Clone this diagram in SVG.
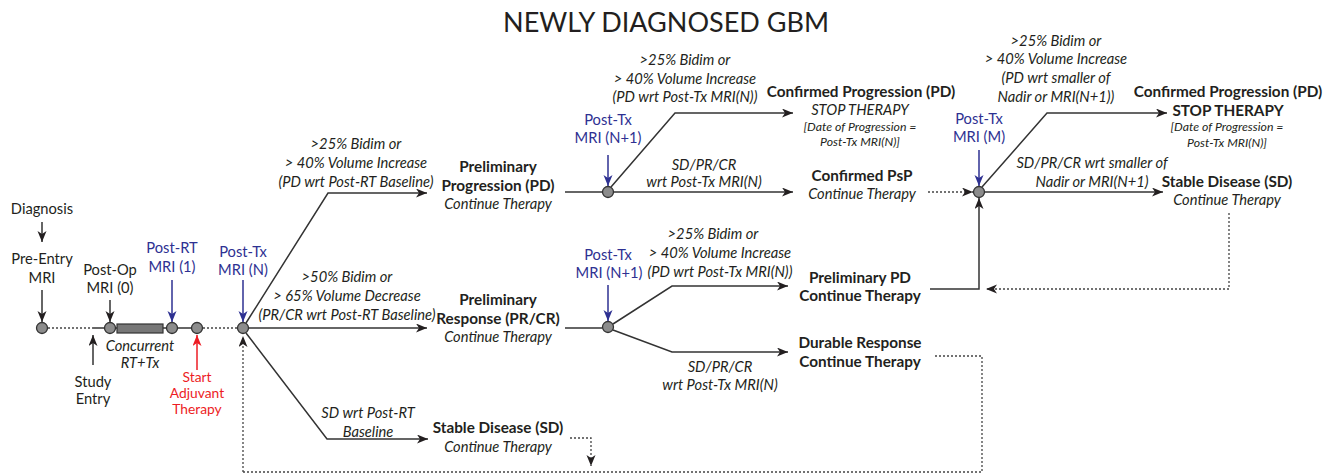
<svg xmlns="http://www.w3.org/2000/svg" width="1338" height="475" viewBox="0 0 1338 475">
<style>
text{font-family:Lato,"Open Sans","Liberation Sans",sans-serif;font-size:14.7px;fill:#231f20;text-anchor:middle}
.t{font-size:27px}
.i{font-style:italic}
.b{font-weight:bold;font-size:15.3px}
.s{font-size:12.3px;font-style:italic}
.blue{fill:#2e3192}
.red{fill:#ed1c24;font-size:13.8px}
.ln{fill:none;stroke:#333;stroke-width:1.5}
.dt{fill:none;stroke:#444;stroke-width:1.3;stroke-dasharray:2 2}
.bl{fill:none;stroke:#2e3192;stroke-width:1.5}
.rd{fill:none;stroke:#ed1c24;stroke-width:1.5}
.nd{fill:#8c8c8c;stroke:#333;stroke-width:1.3}
</style>
<defs>
<marker id="ah" markerUnits="userSpaceOnUse" markerWidth="12" markerHeight="10" refX="11" refY="4.5" orient="auto"><path d="M0,0 L11,4.5 L0,9 L3,4.5 z" fill="#231f20"/></marker>
<marker id="ahb" markerUnits="userSpaceOnUse" markerWidth="12" markerHeight="10" refX="11" refY="4.5" orient="auto"><path d="M0,0 L11,4.5 L0,9 L3,4.5 z" fill="#2e3192"/></marker>
<marker id="ahr" markerUnits="userSpaceOnUse" markerWidth="12" markerHeight="10" refX="11" refY="4.5" orient="auto"><path d="M0,0 L11,4.5 L0,9 L3,4.5 z" fill="#ed1c24"/></marker>
</defs>
<text class="t" x="666" y="32">NEWLY DIAGNOSED GBM</text>

<g id="connectors">
<path class="ln" d="M42,222 V242" marker-end="url(#ah)"/>
<path class="ln" d="M42,290 V322" marker-end="url(#ah)"/>
<path class="dt" d="M48,328 H93"/>
<path class="ln" d="M93,328 H104"/>
<path class="ln" d="M93,365 V335" marker-end="url(#ah)"/>
<path class="ln" d="M110,300 V322" marker-end="url(#ah)"/>
<path class="ln" d="M116,328 H166"/>
<path class="bl" d="M172,280 V322" marker-end="url(#ahb)"/>
<path class="ln" d="M178,328 H191"/>
<path class="rd" d="M197,370 V335" marker-end="url(#ahr)"/>
<path class="dt" d="M203,328 H237"/>
<path class="bl" d="M243,280 V322" marker-end="url(#ahb)"/>
<path class="dt" d="M243,472 V336" marker-end="url(#ah)"/>
<path class="ln" d="M246,323 L328,193 H427" marker-end="url(#ah)"/>
<path class="ln" d="M249,328 H427" marker-end="url(#ah)"/>
<path class="ln" d="M246,333 L327,439 H428" marker-end="url(#ah)"/>
<path class="dt" d="M570,438 H591 V466" marker-end="url(#ah)"/>
<path class="ln" d="M565,192 H602"/>
<path class="bl" d="M608,155 V186" marker-end="url(#ahb)"/>
<path class="ln" d="M611,187 L675,113 H793" marker-end="url(#ah)"/>
<path class="ln" d="M614,192 H793" marker-end="url(#ah)"/>
<path class="dt" d="M928,192 H973" marker-end="url(#ah)"/>
<path class="ln" d="M565,328 H602"/>
<path class="bl" d="M608,285 V321" marker-end="url(#ahb)"/>
<path class="ln" d="M613,324 L672,286 H788" marker-end="url(#ah)"/>
<path class="ln" d="M613,330 L672,352 H788" marker-end="url(#ah)"/>
<path class="ln" d="M930,289 H979 V198" marker-end="url(#ah)"/>
<path class="dt" d="M935,356 H982 V472 H243"/>
<path class="dt" d="M1229,213 V289 H986" marker-end="url(#ah)"/>
<path class="bl" d="M979,150 V186" marker-end="url(#ahb)"/>
<path class="ln" d="M982,187 L1047,113 H1167" marker-end="url(#ah)"/>
<path class="ln" d="M985,192 H1163" marker-end="url(#ah)"/>
</g>

<g id="diagnosis"><text x="42" y="214">Diagnosis</text></g>
<g id="pre-entry"><text x="42" y="264">Pre-Entry</text><text x="42" y="283">MRI</text><circle class="nd" cx="42" cy="328" r="5.5"/></g>
<g id="study-entry"><text x="93" y="387">Study</text><text x="93" y="404">Entry</text></g>
<g id="post-op"><text x="110" y="275">Post-Op</text><text x="110" y="293">MRI (0)</text><circle class="nd" cx="110" cy="328" r="5.5"/></g>
<g id="concurrent"><rect x="117" y="324" width="46" height="9" fill="#777" stroke="#333" stroke-width="1.2"/><text class="i" x="140" y="351">Concurrent</text><text class="i" x="140" y="368">RT+Tx</text></g>
<g id="post-rt"><text class="blue" x="172" y="253">Post-RT</text><text class="blue" x="172" y="272">MRI (1)</text><circle class="nd" cx="172" cy="328" r="5.5"/></g>
<g id="start-adjuvant"><circle class="nd" cx="197" cy="328" r="5.5"/><text class="red" x="197" y="382">Start</text><text class="red" x="197" y="398">Adjuvant</text><text class="red" x="197" y="414">Therapy</text></g>
<g id="post-tx-n"><text class="blue" x="243" y="257">Post-Tx</text><text class="blue" x="243" y="275">MRI (N)</text><circle class="nd" cx="243" cy="328" r="5.5"/></g>

<g id="labels-1">
<text class="i" x="356" y="149">&gt;25% Bidim or</text>
<text class="i" x="356" y="168">&gt; 40% Volume Increase</text>
<text class="i" x="356" y="187">(PD wrt Post-RT Baseline)</text>
<text class="i" x="347" y="282">&gt;50% Bidim or</text>
<text class="i" x="347" y="301">&gt; 65% Volume Decrease</text>
<text class="i" x="347" y="320">(PR/CR wrt Post-RT Baseline)</text>
<text class="i" x="368" y="418">SD wrt Post-RT</text>
<text class="i" x="368" y="437">Baseline</text>
</g>

<g id="prelim-pd"><text class="b" x="498" y="172">Preliminary</text><text class="b" x="498" y="191">Progression (PD)</text><text class="i" x="498" y="209">Continue Therapy</text></g>
<g id="prelim-resp"><text class="b" x="498" y="305">Preliminary</text><text class="b" x="498" y="324">Response (PR/CR)</text><text class="i" x="498" y="342">Continue Therapy</text></g>
<g id="stable-1"><text class="b" x="498" y="433">Stable Disease (SD)</text><text class="i" x="498" y="452">Continue Therapy</text></g>

<g id="post-tx-n1-a"><text class="blue" x="608" y="125">Post-Tx</text><text class="blue" x="608" y="143">MRI (N+1)</text><circle class="nd" cx="608" cy="192" r="5.5"/></g>
<g id="labels-2">
<text class="i" x="685" y="65">&gt;25% Bidim or</text>
<text class="i" x="685" y="84">&gt; 40% Volume Increase</text>
<text class="i" x="685" y="102">(PD wrt Post-Tx MRI(N))</text>
<text class="i" x="704" y="170">SD/PR/CR</text>
<text class="i" x="704" y="187">wrt Post-Tx MRI(N)</text>
</g>
<g id="confirmed-pd-1"><text class="b" x="861" y="97">Confirmed Progression (PD)</text><text class="i" x="860" y="115">STOP THERAPY</text><text class="s" x="860" y="131">[Date of Progression =</text><text class="s" x="860" y="146">Post-Tx MRI(N)]</text></g>
<g id="confirmed-psp"><text class="b" x="862" y="181">Confirmed PsP</text><text class="i" x="862" y="199">Continue Therapy</text></g>

<g id="post-tx-n1-b"><text class="blue" x="608" y="260">Post-Tx</text><text class="blue" x="609" y="278">MRI (N+1)</text><circle class="nd" cx="608" cy="327" r="5.5"/></g>
<g id="labels-3">
<text class="i" x="713" y="239">&gt;25% Bidim or</text>
<text class="i" x="720" y="258">&gt; 40% Volume Increase</text>
<text class="i" x="720" y="277">(PD wrt Post-Tx MRI(N))</text>
<text class="i" x="720" y="372">SD/PR/CR</text>
<text class="i" x="720" y="390">wrt Post-Tx MRI(N)</text>
</g>
<g id="prelim-pd-2"><text class="b" x="860" y="283">Preliminary PD</text><text class="b" x="860" y="301">Continue Therapy</text></g>
<g id="durable"><text class="b" x="860" y="348">Durable Response</text><text class="b" x="860" y="367">Continue Therapy</text></g>

<g id="post-tx-m"><text class="blue" x="979" y="124">Post-Tx</text><text class="blue" x="979" y="142">MRI (M)</text><circle class="nd" cx="979" cy="192" r="5.5"/></g>
<g id="labels-4">
<text class="i" x="1056" y="46">&gt;25% Bidim or</text>
<text class="i" x="1056" y="64">&gt; 40% Volume Increase</text>
<text class="i" x="1056" y="83">(PD wrt smaller of</text>
<text class="i" x="1056" y="102">Nadir or MRI(N+1))</text>
<text class="i" x="1092" y="168">SD/PR/CR wrt smaller of</text>
<text class="i" x="1092" y="187">Nadir or MRI(N+1)</text>
</g>
<g id="confirmed-pd-2"><text class="b" x="1228" y="97">Confirmed Progression (PD)</text><text class="b" x="1228" y="116">STOP THERAPY</text><text class="s" x="1227" y="131">[Date of Progression =</text><text class="s" x="1227" y="147">Post-Tx MRI(N)]</text></g>
<g id="stable-2"><text class="b" x="1227" y="187">Stable Disease (SD)</text><text class="i" x="1227" y="205">Continue Therapy</text></g>
</svg>
